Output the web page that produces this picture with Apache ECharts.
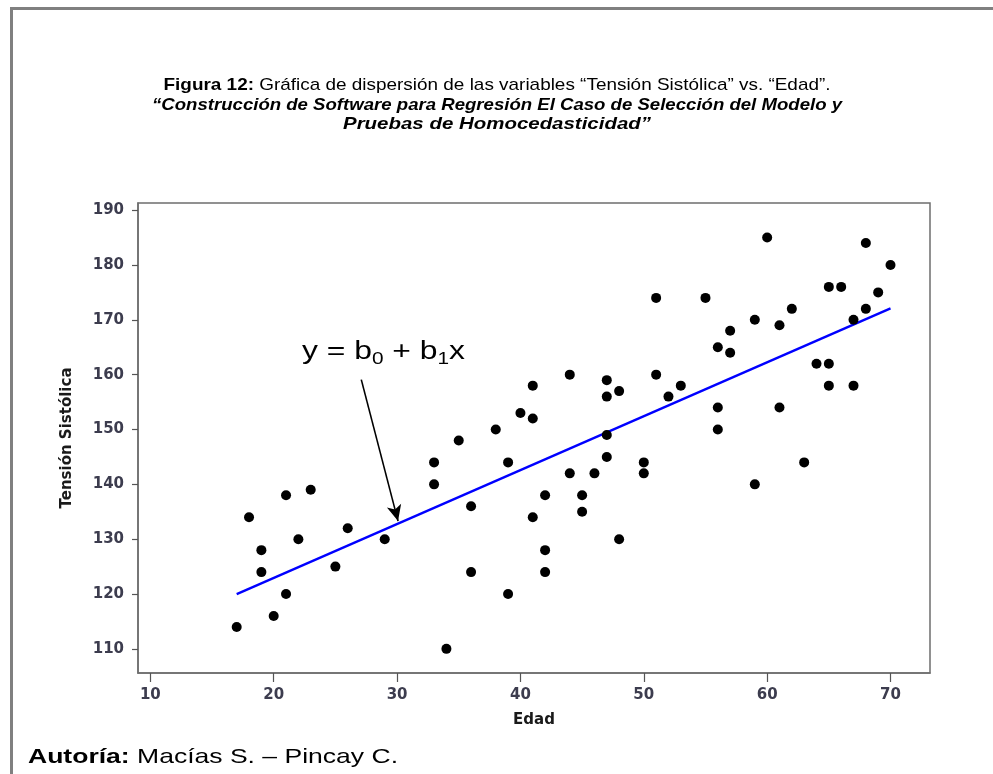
<!DOCTYPE html>
<html><head><meta charset="utf-8">
<script src="https://cdn.jsdelivr.net/npm/echarts@6/dist/echarts.min.js"></script>
<style>html,body{margin:0;padding:0;background:#fff}#c{width:993px;height:774px}</style>
</head><body><div id="c"></div>
<script>
// Data
const edad = [17,18,19,19,20,21,21,22,23,25,26,29,33,33,34,35,36,36,38,39,39,40,41,41,41,42,42,42,44,44,45,45,46,47,47,47,47,48,48,50,50,51,51,52,53,55,56,56,56,57,57,59,59,60,61,61,62,63,64,65,65,65,66,67,67,68,68,69,70];
const tension = [114,134,128,124,116,138,120,130,139,125,132,130,144,140,110,148,136,124,150,144,120,153,158,152,134,138,128,124,160,142,138,135,142,159,156,149,145,157,130,144,142,174,160,156,158,174,165,154,150,168,164,170,140,185,169,154,172,144,162,176,162,158,176,170,158,184,172,175,180];
const fitX = [17,70];
const fitY = [120,172.1];
const arrowStart = [27.1,159.1];
const arrowEnd = [30.08,133.3];
const xTicks = [10,20,30,40,50,60,70];
const yTicks = [110,120,130,140,150,160,170,180,190];

const points = edad.map((x,i)=>[x,tension[i]]);
const fitLine = fitX.map((x,i)=>[x,fitY[i]]);

const ctx = document.createElement('canvas').getContext('2d');
function textW(parts){let s=0;for(const p of parts){ctx.font=p[1];s+=ctx.measureText(p[0]).width;}return s;}
const FF = "'Liberation Sans', Arial, sans-serif";
const tS = 17;
const l1a='Figura 12:', l1b=' Gráfica de dispersión de las variables “Tensión Sistólica” vs. “Edad”.';
const l2='“Construcción de Software para Regresión El Caso de Selección del Modelo y';
const l3='Pruebas de Homocedasticidad”';
const s1 = 667/textW([[l1a,'bold '+tS+'px '+FF],[l1b,tS+'px '+FF]]);
const s2 = 690/textW([[l2,'italic bold '+tS+'px '+FF]]);
const s3 = 308/textW([[l3,'italic bold '+tS+'px '+FF]]);
const fS = 21;
const fa='Autoría:', fb=' Macías S. – Pincay C.';
const sf = 370/textW([[fa,'bold '+fS+'px '+FF],[fb,fS+'px '+FF]]);
const aS=26, aSub=17;
const sa = 163/textW([['y = b',aS+'px '+FF],['0',aSub+'px '+FF],[' + b',aS+'px '+FF],['1',aSub+'px '+FF],['x',aS+'px '+FF]]);

const axisCol='#6e6e6e', labCol='#3c3c4e';
const chart = echarts.init(document.getElementById('c'));
chart.setOption({
  animation:false,
  backgroundColor:'#fff',
  grid:{left:138,right:63,top:203,bottom:101,show:true,borderColor:axisCol,borderWidth:1.5,containLabel:false},
  xAxis:{type:'value',min:9.0,max:73.2,
    axisLine:{show:true,onZero:false,lineStyle:{color:axisCol,width:1.5}},
    axisTick:{show:true,length:9,customValues:xTicks,lineStyle:{color:'#555',width:1.2}},
    axisLabel:{customValues:xTicks,margin:15,fontFamily:'DejaVu Sans',fontWeight:'bold',fontSize:15,color:labCol},
    splitLine:{show:false},
    name:'Edad',nameLocation:'middle',nameGap:40,
    nameTextStyle:{fontFamily:'DejaVu Sans',fontWeight:'bold',fontSize:15,color:'#1a1a1a'}},
  yAxis:{type:'value',min:105.6,max:191.3,
    axisLine:{show:true,onZero:false,lineStyle:{color:axisCol,width:1.5}},
    axisTick:{show:true,length:6,customValues:yTicks,lineStyle:{color:'#555',width:1.2}},
    axisLabel:{customValues:yTicks,margin:14,fontFamily:'DejaVu Sans',fontWeight:'bold',fontSize:15,color:labCol},
    splitLine:{show:false},
    name:'Tensión Sistólica',nameLocation:'middle',nameGap:63,
    nameTextStyle:{fontFamily:'DejaVu Sans',fontWeight:'bold',fontSize:15,color:'#1a1a1a'}},
  series:[
    {type:'line',data:fitLine,symbol:'none',lineStyle:{color:'#0000ff',width:2.4},z:2,
     markLine:{silent:true,symbol:['none','arrow'],symbolSize:[11,16],
       lineStyle:{color:'#000',width:1.6,type:'solid'},label:{show:false},
       data:[[{coord:arrowStart},{coord:arrowEnd}]]}},
    {type:'scatter',data:points,symbol:'circle',symbolSize:10,itemStyle:{color:'#000',opacity:1},z:3}
  ],
  graphic:[
    {type:'rect',shape:{x:10,y:7,width:983,height:3},style:{fill:'#808080'},silent:true},
    {type:'rect',shape:{x:10,y:7,width:3,height:767},style:{fill:'#808080'},silent:true},
    {type:'text',x:497,y:85,scaleX:s1,style:{text:'{b|'+l1a+'}{n|'+l1b+'}',align:'center',verticalAlign:'middle',
      rich:{b:{fontFamily:FF,fontWeight:'bold',fontSize:tS,fill:'#000'},n:{fontFamily:FF,fontSize:tS,fill:'#000'}}}},
    {type:'text',x:497,y:105,scaleX:s2,style:{text:l2,align:'center',verticalAlign:'middle',fontFamily:FF,fontWeight:'bold',fontStyle:'italic',fontSize:tS,fill:'#000'}},
    {type:'text',x:497,y:124,scaleX:s3,style:{text:l3,align:'center',verticalAlign:'middle',fontFamily:FF,fontWeight:'bold',fontStyle:'italic',fontSize:tS,fill:'#000'}},
    {type:'text',x:28,y:757,scaleX:sf,style:{text:'{b|'+fa+'}{n|'+fb+'}',align:'left',verticalAlign:'middle',
      rich:{b:{fontFamily:FF,fontWeight:'bold',fontSize:fS,fill:'#000'},n:{fontFamily:FF,fontSize:fS,fill:'#000'}}}},
    {type:'text',x:302,y:336,scaleX:sa,style:{text:'{m|y = b}{s|0}{m| + b}{s|1}{m|x}',align:'left',verticalAlign:'top',
      rich:{m:{fontFamily:FF,fontSize:aS,lineHeight:32,fill:'#000'},s:{fontFamily:FF,fontSize:aSub,lineHeight:21,verticalAlign:'bottom',fill:'#000'}}}}
  ]
});
</script></body></html>
